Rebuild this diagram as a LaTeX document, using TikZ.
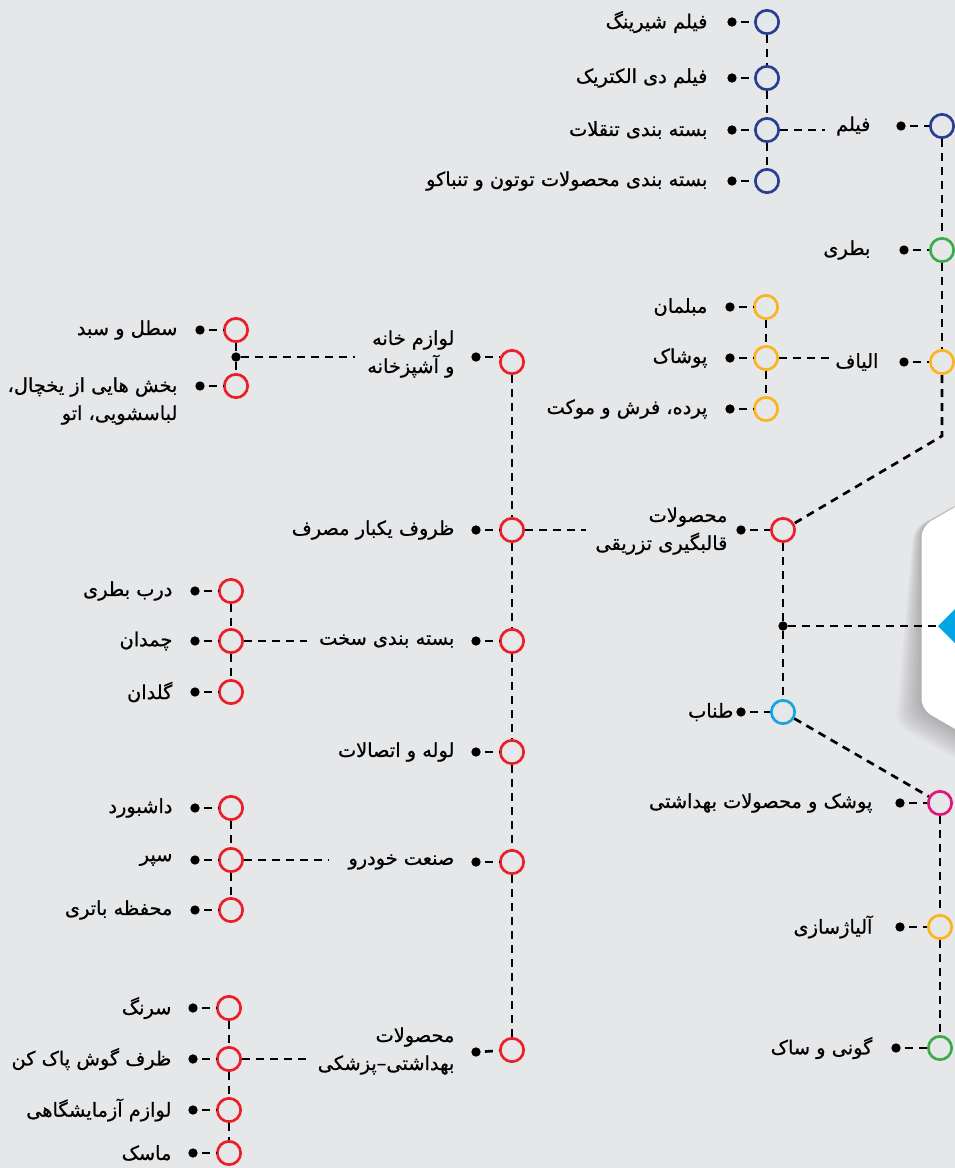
\documentclass[tikz,border=0pt]{standalone}
\usepackage{fontspec}
\usepackage{tikz}
\usetikzlibrary{calc}
\TeXXeTstate=1
\newfontfamily\farsifont[Script=Arabic, FakeBold=0.7]{DejaVu Sans}
\newcommand{\fatxt}[1]{\beginR #1\endR}
\definecolor{bggray}{RGB}{230,231,233}
\definecolor{ringblue}{RGB}{40,62,145}
\definecolor{ringgreen}{RGB}{60,170,75}
\definecolor{ringyellow}{RGB}{250,180,30}
\definecolor{ringred}{RGB}{235,30,40}
\definecolor{ringcyan}{RGB}{20,165,225}
\definecolor{ringpink}{RGB}{225,20,120}
\definecolor{tipcyan}{RGB}{0,165,230}

\begin{document}
\begin{tikzpicture}[x=0.75pt, y=-0.75pt,
    ring/.style={circle, draw=#1, line width=2pt, minimum size=17.5pt, inner sep=0pt, fill=bggray},
    kdot/.style={circle, fill=black, minimum size=7pt, inner sep=0pt},
    link/.style={line width=2pt, dash pattern=on 6pt off 4.5pt},
    stub/.style={link, shorten <=3pt},
    lbl/.style={anchor=east, align=right, inner sep=1pt, font=\farsifont\fontsize{14.5}{21}\selectfont}]
  \useasboundingbox (0,0) rectangle (955,1168);
  \fill[bggray] (0,0) rectangle (955,1168);
  \clip (0,0) rectangle (955,1168);

  % hexagon with its shadow
  \foreach \k in {10,9,...,1}
    \fill[black, opacity=0.025, rounded corners=8pt]
      (1080-0.5*\k,435+0.3*\k) -- (921.5-0.8*\k,526.5+0.2*\k) -- (921.5-2.6*\k,709.5+1.5*\k)
      -- (1080-2.6*\k,801+1.5*\k) -- (1240,709.5) -- (1240,526.5) -- cycle;
  \fill[white, rounded corners=8pt] (1080,435) -- (921.5,526.5) -- (921.5,709.5)
    -- (1080,801) -- (1240,709.5) -- (1240,526.5) -- cycle;
  \fill[tipcyan] (938,626) -- (956,608) -- (974,626) -- (956,644) -- cycle;
  \coordinate (tip) at (938,626);

  % right column
  \foreach \n/\c/\x/\y/\dx/\tx/\t in {
      film/ringblue/942/126/901/872/{فیلم},
      batri/ringgreen/942/250/904/872/{بطری},
      alyaf/ringyellow/942/362/904/880/{الیاف},
      tanab/ringcyan/783/712/741/735/{طناب},
      pooshak/ringpink/940/803/900/874/{پوشک و محصولات بهداشتی},
      aliazh/ringyellow/940/927/900/874/{آلیاژسازی},
      guni/ringgreen/940/1048/896/874/{گونی و ساک}} {
    \node[ring=\c] (\n) at (\x,\y) {};
    \node[kdot] (\n-d) at (\dx,\y) {};
    \node[lbl] (\n-t) at (\tx,\y) {\fatxt{\t}};
    \draw[stub] (\n-d) -- (\n);
  }
  \node[ring=ringred] (tazrigh) at (783,530) {};
  \node[kdot] (tazrigh-d) at (741,530) {};
  \node[lbl] (tazrigh-t) at (729,531) {\fatxt{محصولات}\\\fatxt{قالبگیری تزریقی}};
  \draw[stub] (tazrigh-d) -- (tazrigh);
  \node[kdot] (jct) at (783,626) {};
  \coordinate (bend) at (942,436);

  % film and alyaf leaves
  \foreach \n/\y/\t in {filmA/22/{فیلم شیرینگ}, filmB/78/{فیلم دی الکتریک},
      filmC/130/{بسته بندی تنقلات}, filmD/181/{بسته بندی محصولات توتون و تنباکو}} {
    \node[ring=ringblue] (\n) at (767,\y) {};
    \node[kdot] (\n-d) at (732,\y) {};
    \node[lbl] (\n-t) at (709,\y) {\fatxt{\t}};
    \draw[stub] (\n-d) -- (\n);
  }
  \foreach \n/\y/\t in {alyafA/307/{مبلمان}, alyafB/358/{پوشاک}, alyafC/409/{پرده، فرش و موکت}} {
    \node[ring=ringyellow] (\n) at (766,\y) {};
    \node[kdot] (\n-d) at (730,\y) {};
    \node[lbl] (\n-t) at (709,\y) {\fatxt{\t}};
    \draw[stub] (\n-d) -- (\n);
  }

  % red column
  \foreach \n/\y/\t in {zoruf/530/{ظروف یکبار مصرف}, sakht/641/{بسته بندی سخت},
      loule/752/{لوله و اتصالات}, khodro/862/{صنعت خودرو}} {
    \node[ring=ringred] (\n) at (512,\y) {};
    \node[kdot] (\n-d) at (476,\y) {};
    \node[lbl] (\n-t) at (456,\y) {\fatxt{\t}};
    \draw[stub] (\n-d) -- (\n);
  }
  \node[ring=ringred] (khane) at (512,362) {};
  \node[kdot] (khane-d) at (476,357) {};
  \node[lbl] (khane-t) at (456,354) {\fatxt{لوازم خانه}\\\fatxt{و آشپزخانه}};
  \draw[stub] (khane-d) -- (khane-d -| khane.west);
  \node[ring=ringred] (pezeshki) at (512,1050) {};
  \node[kdot] (pezeshki-d) at (476,1052) {};
  \node[lbl] (pezeshki-t) at (456,1051) {\fatxt{محصولات}\\\fatxt{بهداشتی–پزشکی}};
  \draw[stub] (pezeshki-d) -- (pezeshki);

  % red leaves
  \node[ring=ringred] (khaneA) at (236,330) {};
  \node[kdot] (khaneA-d) at (200,330) {};
  \node[lbl] (khaneA-t) at (179,330) {\fatxt{سطل و سبد}};
  \draw[stub] (khaneA-d) -- (khaneA);
  \node[ring=ringred] (khaneB) at (236,386) {};
  \node[kdot] (khaneB-d) at (200,386) {};
  \node[lbl] (khaneB-t) at (179,401) {\fatxt{بخش هایی از یخچال،}\\\fatxt{لباسشویی، اتو}};
  \draw[stub] (khaneB-d) -- (khaneB);
  \node[kdot] (khane-j) at (236,357) {};
  \foreach \n/\y/\t in {sakhtA/591/{درب بطری}, sakhtB/641/{چمدان}, sakhtC/692/{گلدان},
      khodroA/808/{داشبورد}, khodroB/860/{سپر}, khodroC/910/{محفظه باتری}} {
    \node[ring=ringred] (\n) at (231,\y) {};
    \node[kdot] (\n-d) at (195,\y) {};
    \node[lbl] (\n-t) at (174,\y) {\fatxt{\t}};
    \draw[stub] (\n-d) -- (\n);
  }
  \foreach \n/\y/\t in {pezA/1008/{سرنگ}, pezB/1059/{ظرف گوش پاک کن},
      pezC/1110/{لوازم آزمایشگاهی}, pezD/1153/{ماسک}} {
    \node[ring=ringred] (\n) at (229,\y) {};
    \node[kdot] (\n-d) at (193,\y) {};
    \node[lbl] (\n-t) at (173,\y) {\fatxt{\t}};
    \draw[stub] (\n-d) -- (\n);
  }

  % connectors
  \foreach \a/\b in {film/batri, batri/alyaf, tazrigh/jct, jct/tanab, tanab/pooshak,
      pooshak/aliazh, aliazh/guni, filmA/filmB, filmB/filmC, filmC/filmD,
      alyafA/alyafB, alyafB/alyafC, khane/zoruf, zoruf/sakht, sakht/loule,
      loule/khodro, khodro/pezeshki, khaneA/khane-j, khane-j/khaneB,
      sakhtA/sakhtB, sakhtB/sakhtC, khodroA/khodroB, khodroB/khodroC,
      pezA/pezB, pezB/pezC, pezC/pezD}
    \draw[link] (\a) -- (\b);
  \draw[link] (alyaf) -- (bend) -- (tazrigh);
  \draw[link] (jct) -- (tip);
  \draw[link, shorten >=7pt] (filmC) -- (filmC -| film-t.west);
  \draw[link, shorten >=2pt] (alyafB) -- (alyafB -| alyaf-t.west);
  \draw[link, shorten >=6pt] (zoruf) -- (zoruf -| tazrigh-t.west);
  \draw[link, shorten >=8pt] (khane-j) -- (khane-j -| khane-t.west);
  \draw[link, shorten >=8pt] (sakhtB) -- (sakhtB -| sakht-t.west);
  \draw[link, shorten >=14pt] (khodroB) -- (khodroB -| khodro-t.west);
  \draw[link, shorten >=6pt] (pezB) -- (pezB -| pezeshki-t.west);
\end{tikzpicture}
\end{document}
